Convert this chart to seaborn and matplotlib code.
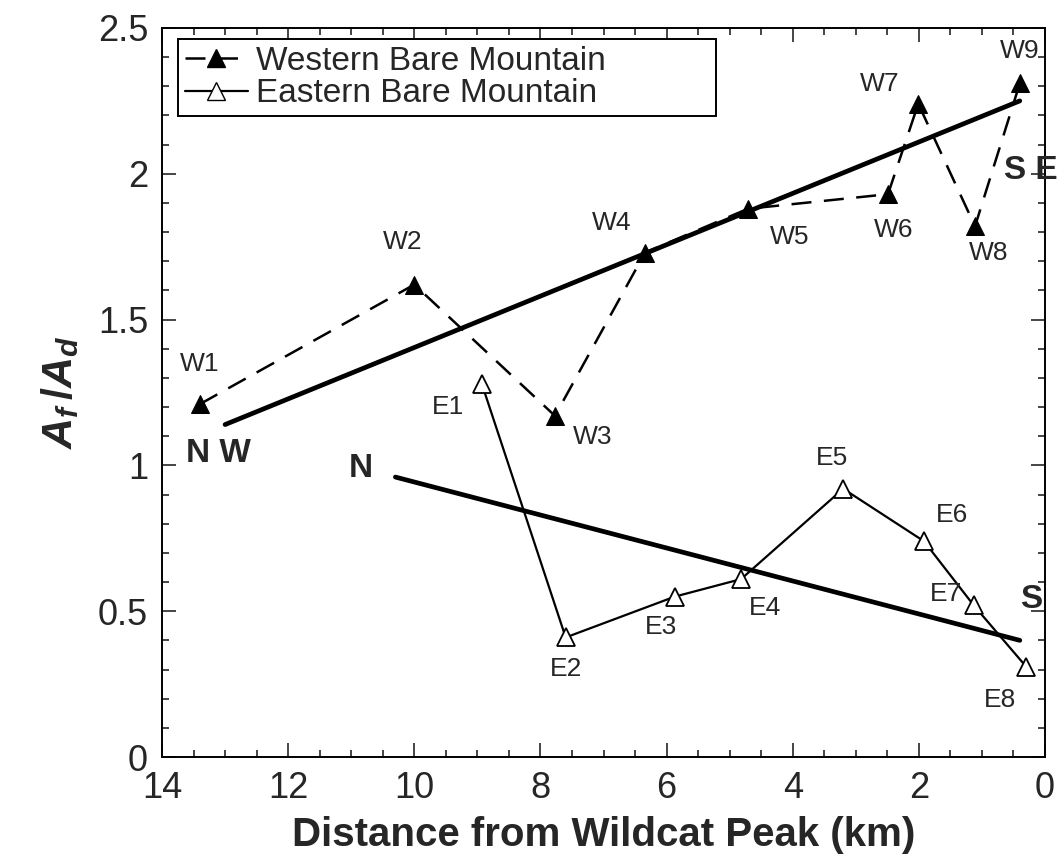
import matplotlib
matplotlib.use("Agg")
import matplotlib.pyplot as plt
from matplotlib.lines import Line2D
from matplotlib.ticker import MultipleLocator
import numpy as np
import pandas as pd
import seaborn as sns

# Mountain-front sinuosity ratio A_f/A_d along Bare Mountain
west_labels = ["W1", "W2", "W3", "W4", "W5", "W6", "W7", "W8", "W9"]
west_km = [13.4, 10.0, 7.77, 6.34, 4.71, 2.49, 2.01, 1.11, 0.40]
west_ratio = [1.21, 1.62, 1.17, 1.73, 1.88, 1.93, 2.24, 1.82, 2.31]

east_labels = ["E1", "E2", "E3", "E4", "E5", "E6", "E7", "E8"]
east_km = [8.93, 7.60, 5.87, 4.82, 3.20, 1.92, 1.13, 0.30]
east_ratio = [1.28, 0.41, 0.55, 0.61, 0.92, 0.74, 0.52, 0.31]

# Linear trends drawn between their end points
west_trend_km = [13.0, 0.40]
west_trend_ratio = [1.14, 2.25]
east_trend_km = [10.3, 0.40]
east_trend_ratio = [0.96, 0.40]

# Label offsets (points) for each station name
west_offsets = [(0, 29), (-8, 31), (27, -15), (-24, 21), (30, -20),
                (4, -26), (-28, 14), (10, -19), (0, 23)]
east_offsets = [(-24, -17), (0, -23), (-10, -22), (17, -21), (-8, 22),
                (20, 19), (-20, 8), (-19, -24)]

DASH = (0, (8, 5))

sns.set_style("ticks")
plt.rcParams["font.family"] = ["Liberation Sans", "DejaVu Sans"]
plt.rcParams["mathtext.fontset"] = "custom"
plt.rcParams["mathtext.it"] = "Liberation Sans:italic:bold"
plt.rcParams["mathtext.rm"] = "Liberation Sans:bold"

fig = plt.figure(figsize=(10.63, 8.58), dpi=100)
ax = fig.add_axes([0.1524, 0.1177, 0.8307, 0.8497])

west = pd.DataFrame({"km": west_km, "ratio": west_ratio})
east = pd.DataFrame({"km": east_km, "ratio": east_ratio})

sns.lineplot(data=west, x="km", y="ratio", ax=ax, sort=False, color="black",
             linestyle=DASH, linewidth=1.8, marker="^", markersize=13,
             markerfacecolor="black", markeredgecolor="black", estimator=None)
sns.lineplot(data=east, x="km", y="ratio", ax=ax, sort=False, color="black",
             linewidth=1.6, marker="^", markersize=13,
             markerfacecolor="white", markeredgecolor="black",
             markeredgewidth=1.3, estimator=None)

sns.lineplot(x=west_trend_km, y=west_trend_ratio, ax=ax, color="black",
             linewidth=3.4, sort=False, estimator=None)
sns.lineplot(x=east_trend_km, y=east_trend_ratio, ax=ax, color="black",
             linewidth=3.4, sort=False, estimator=None)

for name, x, y, off in zip(west_labels, west_km, west_ratio, west_offsets):
    ax.annotate(name, (x, y), xytext=off, textcoords="offset points",
                ha="center", va="center", fontsize=19)
for name, x, y, off in zip(east_labels, east_km, east_ratio, east_offsets):
    ax.annotate(name, (x, y), xytext=off, textcoords="offset points",
                ha="center", va="center", fontsize=19)

# Ends of the two trend lines
ax.text(13.1, 1.04, "N W", fontsize=24, fontweight="bold", ha="center", va="center")
ax.text(0.22, 2.01, "S E", fontsize=24, fontweight="bold", ha="center", va="center")
ax.text(10.85, 0.99, "N", fontsize=24, fontweight="bold", ha="center", va="center")
ax.text(0.22, 0.54, "S", fontsize=24, fontweight="bold", ha="center", va="center")

ax.set_xlim(14, 0)
ax.set_ylim(0, 2.5)
ax.xaxis.set_major_locator(MultipleLocator(2))
ax.xaxis.set_minor_locator(MultipleLocator(0.5))
ax.yaxis.set_major_locator(MultipleLocator(0.5))
ax.yaxis.set_minor_locator(MultipleLocator(0.1))
ax.set_xticks(np.arange(0, 15, 2))
ax.set_xticklabels([str(v) for v in range(0, 15, 2)])
ax.set_yticks([0, 0.5, 1, 1.5, 2, 2.5])
ax.set_yticklabels(["0", "0.5", "1", "1.5", "2", "2.5"])
ax.tick_params(which="both", direction="in", top=True, right=True,
               labelsize=26, width=1.2)
ax.tick_params(axis="x", pad=10)
ax.tick_params(axis="y", pad=10)
ax.tick_params(which="major", length=10)
ax.tick_params(which="minor", length=5)
for s in ax.spines.values():
    s.set_linewidth(1.4)
    s.set_color("black")

ax.set_xlabel("Distance from Wildcat Peak (km)", fontsize=29, fontweight="bold", labelpad=7)
ax.set_ylabel(r"$A_f\,/A_d$", fontsize=31, labelpad=12)

handles = [
    Line2D([], [], color="black", linestyle=DASH, linewidth=1.8,
           marker="^", markersize=13, markerfacecolor="black"),
    Line2D([], [], color="black", linewidth=1.6, marker="^", markersize=13,
           markerfacecolor="white", markeredgecolor="black"),
]
leg = ax.legend(handles, ["Western Bare Mountain", "Eastern Bare Mountain"],
                loc="upper left", bbox_to_anchor=(0.018, 0.985, 0.609, 0),
                mode="expand", borderaxespad=0, fontsize=24,
                frameon=True, fancybox=False, edgecolor="black", framealpha=1,
                handlelength=1.9, handletextpad=0.25, borderpad=0.2,
                labelspacing=0.05)
leg.get_frame().set_linewidth(1.4)

fig.savefig("out.png", dpi=100)
